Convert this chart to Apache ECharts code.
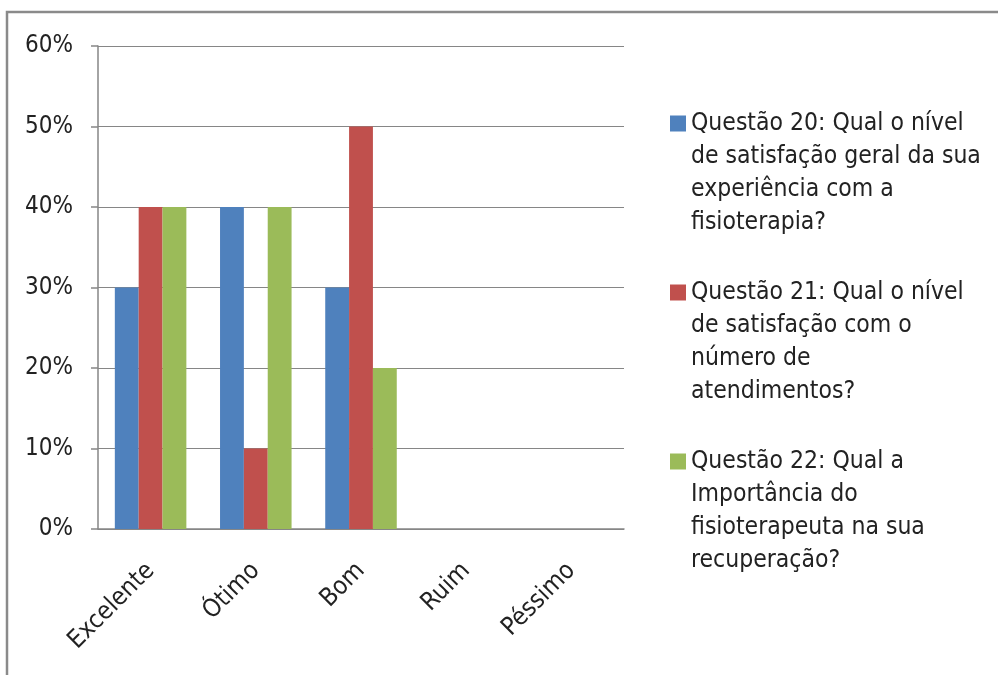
<!DOCTYPE html>
<html>
<head>
<meta charset="utf-8">
<script src="https://cdn.jsdelivr.net/npm/echarts@6/dist/echarts.min.js"></script>
<style>
  html, body { margin: 0; padding: 0; background: #fff; }
  #chart { width: 998px; height: 675px; }
</style>
</head>
<body>
<div id="chart"></div>
<script>
// categorias e valores (%)
const categories = ['Excelente', 'Ótimo', 'Bom', 'Ruim', 'Péssimo']
const q20 = [30, 40, 30, 0, 0]
const q21 = [40, 10, 50, 0, 0]
const q22 = [40, 40, 20, 0, 0]
const seriesNames = [
    'Questão 20: Qual o nível\nde satisfação geral da sua\nexperiência com a\nfisioterapia?',
    'Questão 21: Qual o nível\nde satisfação com o\nnúmero de\natendimentos?',
    'Questão 22: Qual a\nImportância do\nfisioterapeuta na sua\nrecuperação?'
]
const colors = ['#4F81BD', '#C0504D', '#9BBB59']

const FONT = "'Liberation Sans Narrow', 'DejaVu Sans Condensed', 'Liberation Sans', sans-serif"
const GRAY = '#868686'

const myChart = echarts.init(document.getElementById('chart'))

function bar(i, data) {
    return {
        name: seriesNames[i],
        type: 'bar',
        data: data,
        barGap: '0%',
        barCategoryGap: '32%',
        itemStyle: { color: colors[i] }
    }
}

const options = {
    backgroundColor: '#fff',
    animation: false,
    graphic: [{
        type: 'rect',
        shape: { x: 7, y: 12, width: 1200, height: 1000 },
        style: { fill: 'none', stroke: '#8a8a8a', lineWidth: 2.5 },
        silent: true
    }],
    grid: {
        left: 98,
        right: 374,
        top: 46,
        bottom: 146
    },
    legend: {
        orient: 'vertical',
        left: 670,
        top: 8,
        padding: 0,
        icon: 'rect',
        itemWidth: 16,
        itemHeight: 16,
        itemGap: -62,
        // o texto fica centrado no ícone; 3 linhas vazias antes põem a 1ª linha ao lado do quadrado
        formatter: name => '\n\n\n' + name,
        textStyle: {
            fontFamily: FONT,
            fontSize: 24.5,
            lineHeight: 33,
            color: '#222'
        },
        data: seriesNames
    },
    xAxis: {
        type: 'category',
        data: categories,
        axisLine: { lineStyle: { color: GRAY, width: 1.5 } },
        axisTick: { length: 10, lineStyle: { color: GRAY, width: 1.5 } },
        axisLabel: {
            rotate: 45,
            margin: 38,
            fontFamily: FONT,
            fontSize: 25,
            color: '#222'
        }
    },
    yAxis: {
        type: 'value',
        min: 0,
        max: 60,
        interval: 10,
        axisLine: { show: true, lineStyle: { color: GRAY, width: 1.5 } },
        axisTick: { show: true, length: 7, lineStyle: { color: GRAY, width: 1.5 } },
        splitLine: { lineStyle: { color: GRAY, width: 1 } },
        axisLabel: {
            formatter: '{value}%',
            margin: 25,
            fontFamily: FONT,
            fontSize: 24,
            color: '#222'
        }
    },
    series: [bar(0, q20), bar(1, q21), bar(2, q22)]
}
myChart.setOption(options)
</script>
</body>
</html>
